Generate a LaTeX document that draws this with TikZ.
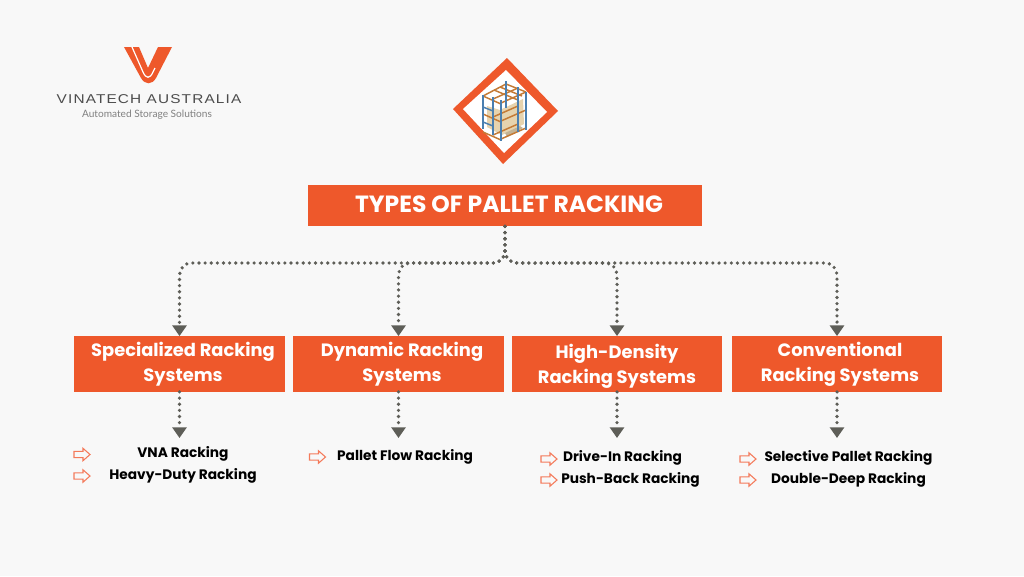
\documentclass[tikz,border=0pt]{standalone}
\usepackage{fontspec}
\setmainfont{Poppins}
\newfontfamily\logofont{Liberation Sans}[LetterSpace=9,FakeStretch=1.2]
\newfontfamily\subfont{Lato}
\usetikzlibrary{arrows.meta}
\definecolor{bg}{HTML}{F8F8F8}
\definecolor{org}{HTML}{EE582B}
\definecolor{conn}{HTML}{5E5E58}
\definecolor{arr}{HTML}{F47A5A}
\definecolor{rblue}{HTML}{4A7FB0}
\definecolor{rorange}{HTML}{C47A35}
\definecolor{rtan}{HTML}{E6D3AE}
\tikzset{
 x=0.75pt,y=-0.75pt,
 titlebox/.style={fill=org,inner sep=0pt,minimum width=295.5pt,minimum height=31pt},
 titletext/.style={text=white,font=\bfseries\fontsize{17.6}{22}\selectfont,inner sep=0pt},
 catbox/.style={fill=org,inner sep=0pt,minimum width=158pt,minimum height=41.5pt},
 cattext/.style={text=white,font=\bfseries\fontsize{13.4}{18.7}\selectfont,align=center,inner sep=0pt},
 item/.style={text=black,font=\bfseries\fontsize{10.3}{13}\selectfont,inner sep=0pt},
 outarrow/.pic={\draw[arr,fill=bg,line width=0.8pt,line join=miter] (-8,-3.2) -- (1,-3.2) -- (1,-6.2) -- (8,0) -- (1,6.2) -- (1,3.2) -- (-8,3.2) -- cycle;},
 link/.style={draw=conn,line width=2.7pt,dash pattern=on 0pt off 4.6pt,line cap=round,rounded corners=9pt},
 tip/.style={-{Triangle[length=8pt,width=10.5pt,color=conn]}},
 rb/.style={draw=rblue,line width=1.1pt},
 ro/.style={draw=rorange,line width=1.1pt},
}
\begin{document}
\begin{tikzpicture}
\useasboundingbox (0,0) rectangle (1024,576);
\fill[bg] (0,0) rectangle (1024,576);
% logo
\fill[org] (124,47) -- (139,47) -- (148,68) -- (158,47) -- (172,47) -- (156,78) .. controls (152,85) and (145,85) .. (141,78) -- cycle;
\draw[white,line width=0.9pt] (132,47) -- (143,72) .. controls (146,79) and (150,79) .. (153,72) -- (155,68);
\node[text=black!70,font=\logofont\fontsize{9.6}{11}\selectfont,inner sep=0pt] (brand) at (149,99.5) {VINATECH AUSTRALIA};
\node[text=black!50,font=\subfont\fontsize{7.6}{9}\selectfont,inner sep=0pt] (slogan) at (147,115) {Automated Storage Solutions};
% emblem
\fill[org] (507,58) -- (558,111) -- (503,164) -- (453,109) -- cycle;
\fill[white] (506,70) -- (547,112) -- (504,153) -- (463,109) -- cycle;
\fill[rtan] (487,106) -- (500,110) -- (523,99) -- (524,124) -- (502,135) -- (487,127) -- cycle;
\fill[rtan!85!black] (505,133) -- (520,126) -- (523,128) -- (507,137) -- cycle;
% beams, depth direction
\foreach \d in {0,18,36}{
  \draw[ro] (483,96+\d) -- (501,104+\d);
  \draw[ro] (501,103+\d) -- (526,92+\d);
  \draw[ro] (493,99+\d) -- (518,88+\d);
}
\draw[ro] (483,96) -- (506,84) -- (526,92);
\draw[ro] (494,90) -- (518,100);
\draw[ro] (500,87) -- (522,96);
% uprights
\draw[rb] (483,95) -- (483,129);
\draw[rb] (493,97) -- (493,135);
\draw[rb] (501,100) -- (501,141);
\draw[rb] (506,81) -- (506,108);
\draw[rb] (518,87) -- (518,132);
\draw[rb] (526,92) -- (526,130);
\draw[rb] (483,107) -- (493,111);
\draw[rb] (483,122) -- (493,126);
% title and boxes
\node[titlebox] (title) at (505,205.5) {};
\node[titletext] (titlet) at (509,204) {TYPES OF PALLET RACKING};
\node[catbox] (spec) at (179.5,364) {};
\node[catbox] (dyn) at (398.5,364) {};
\node[catbox] (high) at (617,364) {};
\node[catbox] (conv) at (837,364) {};
\node[cattext] (spect) at (183,364) {Specialized Racking\\Systems};
\node[cattext] (dynt) at (402,364) {Dynamic Racking\\Systems};
\node[cattext] (hight) at (617,366) {High-Density\\Racking Systems};
\node[cattext] (convt) at (840,364) {Conventional\\Racking Systems};
% connectors
\coordinate (bus) at (505,263);
\draw[link,tip] (title.south) -- (bus) -| (spec.north);
\draw[link,tip] (title.south) -- (bus) -| (dyn.north);
\draw[link,tip] (title.south) -- (bus) -| (high.north);
\draw[link,tip] (title.south) -- (bus) -| (conv.north);
\coordinate (e1) at (179.5,438);
\coordinate (e2) at (398.5,438);
\coordinate (e3) at (617,438);
\coordinate (e4) at (837,438);
\draw[link,tip] (spec.south) -- (e1);
\draw[link,tip] (dyn.south) -- (e2);
\draw[link,tip] (high.south) -- (e3);
\draw[link,tip] (conv.south) -- (e4);
% lists
\node[item] (t1) at (183,454) {VNA Racking};
\node[item] (t2) at (183,476) {Heavy-Duty Racking};
\node[item] (t3) at (405,456.5) {Pallet Flow Racking};
\node[item] (t4) at (622.5,458) {Drive-In Racking};
\node[item] (t5) at (630.5,480) {Push-Back Racking};
\node[item] (t6) at (848.5,458) {Selective Pallet Racking};
\node[item] (t7) at (848.5,480) {Double-Deep Racking};
\pic at (82,454.5) {outarrow};
\pic at (82,476) {outarrow};
\pic at (317.5,457) {outarrow};
\pic at (549,459) {outarrow};
\pic at (549,480) {outarrow};
\pic at (748,459) {outarrow};
\pic at (748,480) {outarrow};
\end{tikzpicture}
\end{document}
